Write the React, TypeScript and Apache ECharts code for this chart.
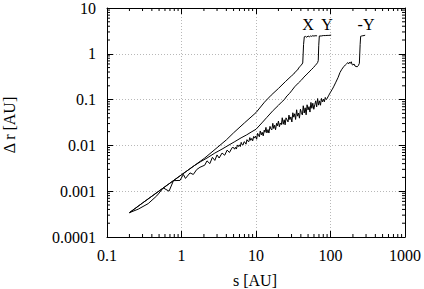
import React, { useEffect, useRef } from "react";
import * as echarts from "echarts";

const xTickLabels = ["0.1", "1", "10", "100", "1000"];
const yTickLabels = ["0.0001", "0.001", "0.01", "0.1", "1", "10"];
const seriesNames = ["X", "Y", "-Y"];
const xTitle = "s [AU]";
const yTitle = "Δ r [AU]";

const sX = [0.2,0.3,0.5,0.7,1,1.5,2.05,3,4,5,7,10,13,16,20,25,30,32,34,36,38,40,42.4,43.5,44.5,46,48,50,52,54,56,58,60,62,64,66];
const rX = [3.4e-4,5.53e-4,1.01e-3,1.5e-3,2.28e-3,3.66e-3,5.3e-3,8.9e-3,0.0132,0.0188,0.031,0.052,0.088,0.125,0.175,0.25,0.33,0.36,0.41,0.44,0.51,0.55,0.63,1.6,2.35,2.4,2.3,2.45,2.35,2.45,2.4,2.5,2.42,2.5,2.45,2.5];

const sY = [0.2,0.3,0.5,0.7,1,1.5,1.8,2.2,2.8,3.5,4.2,5.2,6.3,7.5,8.6,10,12,14,17,20,22,24,26,28,30,33,37,41,44,47,50,53,56,59,62,65,67,68.5,69.5,70.8,75,80,85,90,95,102];
const rY = [3.4e-4,5.53e-4,1.01e-3,1.5e-3,2.28e-3,3.66e-3,4.4e-3,5.3e-3,6.8e-3,8.3e-3,9.9e-3,0.0121,0.0146,0.017,0.0195,0.0225,0.031,0.041,0.058,0.075,0.088,0.1,0.12,0.135,0.155,0.19,0.23,0.27,0.31,0.345,0.38,0.42,0.46,0.5,0.55,0.6,0.64,0.71,1.5,2.45,2.45,2.5,2.5,2.52,2.52,2.56];

const sNY = [
  0.2,0.263,0.358,0.465,0.57,0.68,0.78,0.955,1.06,1.13,1.3,1.44,1.6,1.77,2.05,
  2.2,2.4,2.6,2.8,3.0,3.2,3.5,3.8,4.1,4.4,4.8,
  5.0,5.15,5.3,5.46,5.63,5.8,5.97,6.15,6.33,6.52,6.72,6.92,7.13,7.34,7.56,7.79,8.02,8.26,8.51,8.77,9.03,9.3,9.58,9.87,
  10.2,10.5,10.8,11.1,11.4,11.8,12.1,12.5,12.9,13.2,13.6,14.0,14.5,14.9,15.4,15.8,16.3,16.8,17.3,17.8,18.3,18.9,19.4,
  20.0,20.6,21.2,21.9,22.5,23.2,23.9,24.6,25.3,26.1,26.9,27.7,28.5,29.4,30.3,31.2,32.1,33.1,34.0,35.1,36.1,37.2,38.3,39.5,
  40.6,41.9,43.1,44.4,45.7,47.1,48.5,50.0,51.5,53.0,54.6,56.2,57.9,59.7,61.5,63.3,65.2,67.2,69.2,71.3,73.4,75.6,77.9,80.2,82.6,85.1,87.7,89.8,
  95,100,105,110,118,126,134,142,150,158,165,170,175,180,185,190,195,200,207,213,220,228,236,244,250,254,262,272,282,292
];
const rNY = [
  3.4e-4,4.06e-4,5.37e-4,7.9e-4,1.18e-3,1.0e-3,1.7e-3,1.72e-3,2.32e-3,1.9e-3,2.51e-3,2.32e-3,2.97e-3,3.33e-3,3.7e-3,
  0.0046,0.0040,0.0055,0.0047,0.0062,0.0053,0.0068,0.0061,0.0079,0.0070,0.0090,
  0.00898,0.00826,0.00910,0.00833,0.01022,0.00944,0.01028,0.00942,0.01165,0.01035,0.01028,0.01202,0.01164,0.01064,0.01334,0.01232,0.01213,0.01480,0.01290,0.01420,0.01259,0.01568,0.01444,0.01604,
  0.01364,0.01834,0.01683,0.01541,0.02067,0.01694,0.01939,0.01613,0.02156,0.01936,0.02473,0.01871,0.02218,0.01861,0.02605,0.02304,0.02175,0.03033,0.02340,0.02757,0.02201,0.03037,0.02675,
  0.03396,0.02555,0.03068,0.02842,0.04014,0.02895,0.03631,0.02811,0.03996,0.03601,0.03256,0.04579,0.03658,0.04188,0.03243,0.05157,0.04139,0.04903,0.03683,0.05992,0.04351,0.05095,0.03933,0.06181,
  0.05240,0.04624,0.07338,0.05094,0.06620,0.04647,0.07702,0.05958,0.07014,0.05348,0.08671,0.06464,0.08343,0.06146,0.07732,0.09396,0.06954,0.10540,0.07570,0.09389,0.07531,0.10602,0.08941,0.10215,0.08928,0.11151,0.10011,0.105,
  0.125,0.145,0.165,0.19,0.24,0.3,0.39,0.46,0.52,0.57,0.61,0.64,0.6,0.66,0.62,0.67,0.58,0.57,0.6,0.54,0.53,0.52,0.55,0.62,1.6,2.42,2.45,2.48,2.5,2.55
];

const X_MIN = 0.1, X_MAX = 1000, Y_MIN = 0.0001, Y_MAX = 10;
const FONT = "Liberation Serif";
const FS = 16;

function pairs(s: number[], r: number[]) {
  const n = Math.min(s.length, r.length);
  const out: number[][] = [];
  for (let i = 0; i < n; i++) out.push([s[i], r[i]]);
  return out;
}

export default function App() {
  const ref = useRef<HTMLDivElement>(null);
  useEffect(() => {
    const chart = echarts.init(ref.current!, null, { renderer: "svg" });

    const minorX: number[][] = [];
    for (const d of [0.1, 1, 10, 100]) for (let k = 2; k <= 9; k++) minorX.push([d * k, 1]);
    const minorY: number[][] = [];
    for (const d of [0.0001, 0.001, 0.01, 0.1, 1]) for (let k = 2; k <= 9; k++) minorY.push([1, d * k]);

    const lineStyleAxis = { color: "#000", width: 1 };

    const baseX = {
      type: "log" as const, logBase: 10, min: X_MIN, max: X_MAX,
      axisLine: { show: true, onZero: false, lineStyle: lineStyleAxis },
      axisTick: { show: true, inside: true, length: 6, lineStyle: lineStyleAxis },
    };
    const baseY = {
      type: "log" as const, logBase: 10, min: Y_MIN, max: Y_MAX,
      axisLine: { show: true, onZero: false, lineStyle: lineStyleAxis },
      axisTick: { show: true, inside: true, length: 6, lineStyle: lineStyleAxis },
    };

    const lineSeries = (name: string, data: number[][]) => ({
      name, type: "line", xAxisIndex: 0, yAxisIndex: 0, data,
      symbol: "none", showSymbol: false, silent: true,
      lineStyle: { color: "#000", width: 1 },
      emphasis: { disabled: true }, z: 3,
    });

    const tickSeries = (data: number[][], horiz: boolean) => ({
      type: "custom", xAxisIndex: 0, yAxisIndex: 0, silent: true, data, z: 4,
      renderItem: (params: any, api: any) => {
        const p = api.coord([api.value(0), api.value(1)]);
        const cs = params.coordSys;
        const st = { stroke: "#000", lineWidth: 1 };
        if (horiz) {
          const b = cs.y + cs.height;
          return {
            type: "group", children: [
              { type: "line", shape: { x1: p[0], y1: b, x2: p[0], y2: b - 3 }, style: st },
              { type: "line", shape: { x1: p[0], y1: cs.y, x2: p[0], y2: cs.y + 3 }, style: st },
            ],
          };
        }
        const r = cs.x + cs.width;
        return {
          type: "group", children: [
            { type: "line", shape: { x1: cs.x, y1: p[1], x2: cs.x + 3, y2: p[1] }, style: st },
            { type: "line", shape: { x1: r, y1: p[1], x2: r - 3, y2: p[1] }, style: st },
          ],
        };
      },
    });

    const txt = (text: string, x: number, y: number, extra: any = {}) => ({
      type: "text", x, y, ...extra,
      style: { text, font: `${FS}px ${FONT}`, fill: "#000", textAlign: "center", textVerticalAlign: "middle" },
    });

    chart.setOption({
      animation: false,
      grid: { left: 107, right: 19, top: 5, bottom: 52, containLabel: false },
      xAxis: [
        {
          ...baseX, position: "bottom",
          axisLabel: {
            color: "#000", fontFamily: FONT, fontSize: FS, margin: 10,
            formatter: (v: number) => xTickLabels[Math.round(Math.log10(v)) + 1] ?? "",
          },
          splitLine: { show: true, lineStyle: { color: "#b8b8b8", width: 1, type: [1, 2] } },
        },
        { ...baseX, position: "top", axisLabel: { show: false }, splitLine: { show: false } },
      ],
      yAxis: [
        {
          ...baseY, position: "left",
          axisLabel: {
            color: "#000", fontFamily: FONT, fontSize: FS, margin: 11,
            formatter: (v: number) => yTickLabels[Math.round(Math.log10(v)) + 4] ?? "",
          },
          splitLine: { show: true, lineStyle: { color: "#b8b8b8", width: 1, type: [1, 2] } },
        },
        { ...baseY, position: "right", axisLabel: { show: false }, splitLine: { show: false } },
      ],
      series: [
        lineSeries(seriesNames[0], pairs(sX, rX)),
        lineSeries(seriesNames[1], pairs(sY, rY)),
        lineSeries(seriesNames[2], pairs(sNY, rNY)),
        tickSeries(minorX, true),
        tickSeries(minorY, false),
      ],
      graphic: [
        txt(seriesNames[0], 308, 24),
        txt(seriesNames[1], 327, 24),
        txt(seriesNames[2], 366, 24),
        txt(xTitle, 255, 280),
        txt(yTitle, 9, 125, { rotation: Math.PI / 2 }),
      ],
    });
    return () => chart.dispose();
  }, []);
  return <div ref={ref} style={{ position: "fixed", left: 0, top: 0, width: 424, height: 289, background: "#fff" }} />;
}
